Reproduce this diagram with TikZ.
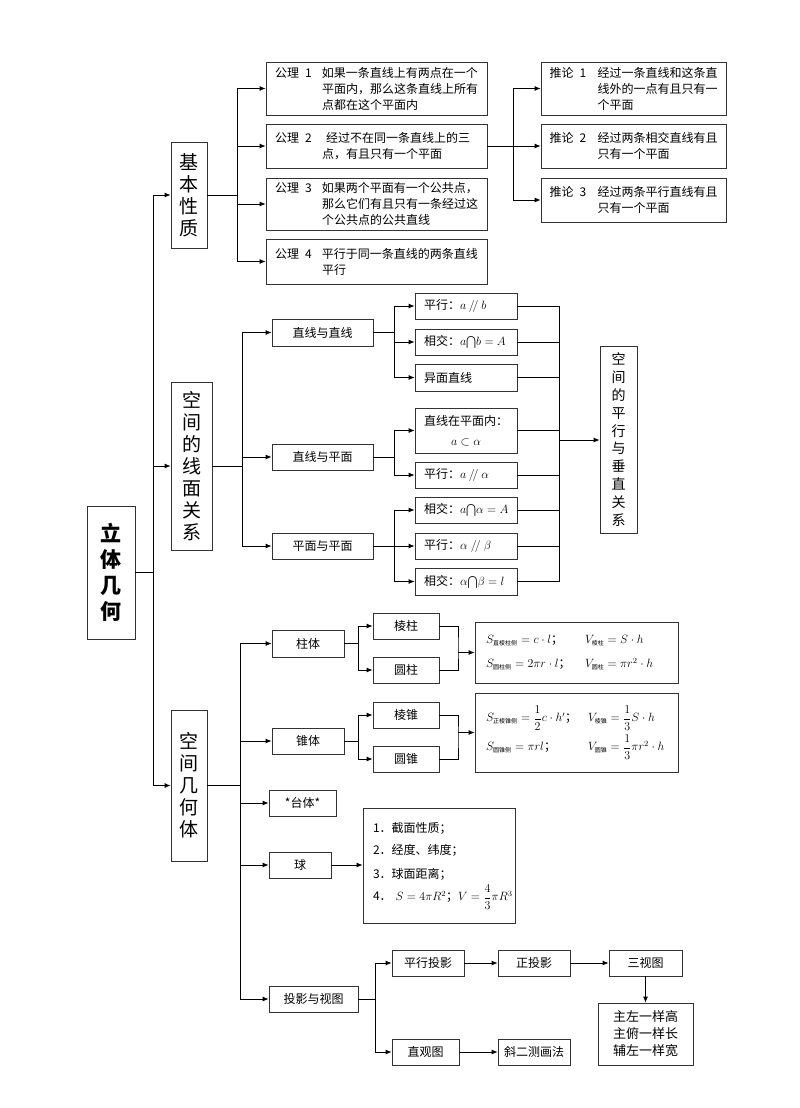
\documentclass[tikz,border=0pt]{standalone}
\usepackage{amsmath}
\usepackage{fontspec}
\setmainfont{Noto Sans CJK SC}
\usetikzlibrary{arrows.meta}

\newcommand{\cjs}[1]{\mbox{\fontsize{6}{6}\selectfont #1}}
\newcommand{\pll}{\mathbin{/\!/}}

\tikzset{
  box/.style={draw=black!80, line width=0.8pt, inner sep=0pt, align=center,
    font=\fontsize{12}{16}\selectfont},
  sz/.style 2 args={minimum width=#1, minimum height=#2},
  gbox/.style={box, align=left, inner xsep=9pt, text width=203pt},
  tbox/.style={box, align=left, inner xsep=8.5pt, text width=168pt},
  rbox/.style={box, align=left, inner xsep=9pt, text width=84pt},
  fbox/.style={box, align=left, inner xsep=11pt, text width=181pt},
  vbox/.style={box, font=\fontsize{19}{22}\selectfont},
  ln/.style={line width=0.8pt},
  arr/.style={ln, -{Latex[length=6pt,width=5pt]}}
}

\begin{document}
\begin{tikzpicture}[x=1pt, y=-1pt]
  \useasboundingbox (0,0) rectangle (800,1108);

  % root and main trunk
  \node[vbox, sz={48}{133}, font=\fontsize{21}{26}\selectfont\bfseries] (rt) at (111,572.5) {立\\体\\几\\何};
  \node[vbox, sz={36}{106}] (jb) at (189,195) {基\\本\\性\\质};
  \node[vbox, sz={41}{168}] (xm) at (191.5,466) {空\\间\\的\\线\\面\\关\\系};
  \node[vbox, sz={36}{151}] (jh) at (189,785.5) {空\\间\\几\\何\\体};
  \coordinate (t0) at (153,572.5);
  \draw[ln] (rt.east) -- (t0);
  \foreach \n in {jb,xm,jh} \draw[arr] (t0) |- (\n.west);

  % basic properties
  \node[gbox, minimum height=53] (g1) at (376.5,88.5) {\makebox[47pt][l]{公理\hspace{6pt}1}\parbox[t]{156pt}{如果一条直线上有两点在一个\\平面内，那么这条直线上所有\\点都在这个平面内}};
  \node[gbox, minimum height=44] (g2) at (376.5,146) {\makebox[47pt][l]{公理\hspace{6pt}2}\parbox[t]{156pt}{\hspace{4pt}经过不在同一条直线上的三\\\hspace{4pt}点，有且只有一个平面}};
  \node[gbox, minimum height=52] (g3) at (376.5,204) {\makebox[47pt][l]{公理\hspace{6pt}3}\parbox[t]{156pt}{如果两个平面有一个公共点，\\那么它们有且只有一条经过这\\个公共点的公共直线}};
  \node[gbox, minimum height=45] (g4) at (376.5,261.5) {\makebox[47pt][l]{公理\hspace{6pt}4}\parbox[t]{156pt}{平行于同一条直线的两条直线\\平行}};
  \coordinate (j1) at (237,195);
  \draw[ln] (jb.east) -- (j1);
  \foreach \n in {g1,g2,g3,g4} \draw[arr] (j1) |- (\n.west);

  \node[tbox, minimum height=53] (t1) at (633.5,88.5) {\makebox[48pt][l]{推论\hspace{6pt}1}\parbox[t]{120pt}{经过一条直线和这条直\\线外的一点有且只有一\\个平面}};
  \node[tbox, minimum height=44] (t2) at (633.5,146) {\makebox[48pt][l]{推论\hspace{6pt}2}\parbox[t]{120pt}{经过两条相交直线有且\\只有一个平面}};
  \node[tbox, minimum height=44] (t3) at (633.5,200) {\makebox[48pt][l]{推论\hspace{6pt}3}\parbox[t]{120pt}{经过两条平行直线有且\\只有一个平面}};
  \coordinate (j2) at (513,146);
  \draw[ln] (g2.east) -- (j2);
  \foreach \n in {t1,t2,t3} \draw[arr] (j2) |- (\n.west);

  % lines and planes
  \node[box, sz={101}{27}] (m1) at (322.5,332.5) {直线与直线};
  \node[box, sz={101}{26}] (m2) at (322.5,457) {直线与平面};
  \node[box, sz={101}{26}] (m3) at (322.5,546) {平面与平面};
  \coordinate (j3) at (242,466);
  \draw[ln] (xm.east) -- (j3);
  \foreach \n in {m1,m2,m3} \draw[arr] (j3) |- (\n.west);

  \node[rbox, minimum height=26] (r1) at (466,306) {\mbox{平行：$a\pll b$}};
  \node[rbox, minimum height=26] (r2) at (466,342) {\mbox{相交：$a{\bigcap}b=A$}};
  \node[rbox, minimum height=27] (r3) at (466,377.5) {异面直线};
  \node[rbox, minimum height=45] (r4) at (466,430.5) {\mbox{直线在平面内：}\\[4pt]\makebox[84pt]{$a\subset\alpha$}};
  \node[rbox, minimum height=26] (r5) at (466,475) {\mbox{平行：$a\pll\alpha$}};
  \node[rbox, minimum height=26] (r6) at (466,510) {\mbox{相交：$a{\bigcap}\alpha=A$}};
  \node[rbox, minimum height=26] (r7) at (466,546) {\mbox{平行：$\alpha\;/\!/\;\beta$}};
  \node[rbox, minimum height=27] (r8) at (466,581.5) {\mbox{相交：$\alpha{\bigcap}\beta=l$}};
  \coordinate (k1) at (394,332.5);
  \coordinate (k2) at (394,457);
  \coordinate (k3) at (394,546);
  \draw[ln] (m1.east) -- (k1);
  \draw[ln] (m2.east) -- (k2);
  \draw[ln] (m3.east) -- (k3);
  \foreach \n in {r1,r2,r3} \draw[arr] (k1) |- (\n.west);
  \foreach \n in {r4,r5} \draw[arr] (k2) |- (\n.west);
  \foreach \n in {r6,r7,r8} \draw[arr] (k3) |- (\n.west);

  \node[box, sz={37}{187}, font=\fontsize{14}{17.8}\selectfont] (pv) at (618.5,439.5) {空\\间\\的\\平\\行\\与\\垂\\直\\关\\系};
  \coordinate (cr) at (559,440);
  \foreach \n in {r1,r2,r3,r4,r5,r6,r7,r8} \draw[ln] (\n.east) -- (\n.east -| cr);
  \draw[ln] (r1.east -| cr) -- (r8.east -| cr);
  \draw[arr] (cr) -- (cr -| pv.west);

  % solids
  \node[box, sz={72}{27}] (b1) at (308,643.5) {柱体};
  \node[box, sz={72}{26}] (b2) at (308,741) {锥体};
  \node[box, sz={67}{26}] (b3) at (302.5,803) {*台体*};
  \node[box, sz={62}{26}] (b4) at (300,865) {球};
  \node[box, sz={89}{26}] (b5) at (313.5,999) {投影与视图};
  \coordinate (j4) at (240,785.5);
  \draw[ln] (jh.east) -- (j4);
  \draw[ln] (j4 |- b1.west) -- (j4 |- b5.west);
  \foreach \n in {b1,b2,b3,b4,b5} \draw[arr] (j4 |- \n.west) -- (\n.west);

  \node[box, sz={66}{26}] (c1) at (406,626) {棱柱};
  \node[box, sz={66}{26}] (c2) at (406,670) {圆柱};
  \node[box, sz={66}{26}] (c3) at (406,715) {棱锥};
  \node[box, sz={66}{26}] (c4) at (406,759) {圆锥};
  \coordinate (k4) at (358,643.5);
  \coordinate (k5) at (358,741);
  \draw[ln] (b1.east) -- (k4);
  \draw[ln] (b2.east) -- (k5);
  \foreach \n in {c1,c2} \draw[arr] (k4) |- (\n.west);
  \foreach \n in {c3,c4} \draw[arr] (k5) |- (\n.west);

  \node[fbox, minimum height=61] (f1) at (576.5,652.5) {\makebox[99pt][l]{$S_{\cjs{直棱柱侧}}=c\cdot l$；}$V_{\cjs{棱柱}}=S\cdot h$\\[8pt]\makebox[99pt][l]{$S_{\cjs{圆柱侧}}=2\pi r\cdot l$；}$V_{\cjs{圆柱}}=\pi r^2\cdot h$};
  \node[fbox, minimum height=79] (f2) at (576.5,732.5) {\makebox[102pt][l]{$S_{\cjs{正棱锥侧}}=\dfrac{1}{2}c\cdot h'$；}$V_{\cjs{棱锥}}=\dfrac{1}{3}S\cdot h$\\[4pt]\makebox[102pt][l]{$S_{\cjs{圆锥侧}}=\pi rl$；}$V_{\cjs{圆锥}}=\dfrac{1}{3}\pi r^2\cdot h$};
  \coordinate (z1) at (458,648);
  \coordinate (z2) at (458,737);
  \draw[ln] (c1.east) -| (z1) |- (c2.east);
  \draw[ln] (c3.east) -| (z2) |- (c4.east);
  \draw[arr] (f1.west -| z1) -- (f1.west);
  \draw[arr] (f2.west -| z2) -- (f2.west);

  \node[box, align=left, inner xsep=10pt, text width=132pt, minimum height=115] (sp) at (439,865.5) {1．截面性质；\\[6pt]2．经度、纬度；\\[8pt]3．球面距离；\\[4pt]\mbox{4．\ $S=4\pi R^2$；$V=\dfrac{4}{3}\pi R^3$}};
  \draw[arr] (b4.east) -- (b4.east -| sp.west);

  % projection and views
  \node[box, sz={72}{26}] (p1) at (428,963) {平行投影};
  \node[box, sz={72}{26}] (p2) at (534,963) {正投影};
  \node[box, sz={73}{26}] (p3) at (645.5,963) {三视图};
  \node[box, sz={67}{26}] (p4) at (425.5,1052) {直观图};
  \node[box, sz={72}{26}] (p5) at (534,1052) {斜二测画法};
  \node[box, sz={95}{62}, font=\fontsize{13}{17}\selectfont] (sv) at (645.5,1034) {主左一样高\\主俯一样长\\辅左一样宽};
  \coordinate (k6) at (375,999);
  \draw[ln] (b5.east) -- (k6);
  \foreach \n in {p1,p4} \draw[arr] (k6) |- (\n.west);
  \draw[arr] (p1) -- (p2);
  \draw[arr] (p2) -- (p3);
  \draw[arr] (p3) -- (sv);
  \draw[arr] (p4) -- (p5);
\end{tikzpicture}
\end{document}
